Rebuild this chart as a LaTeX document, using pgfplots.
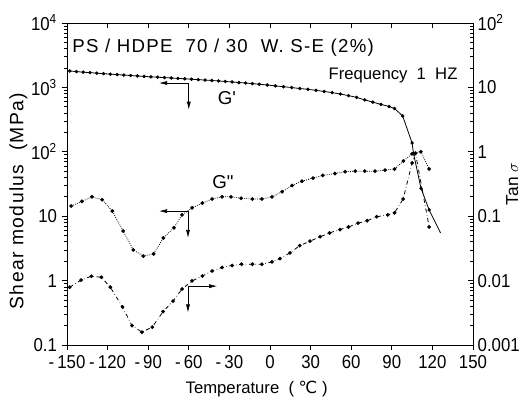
\documentclass[border=0pt]{standalone}
\usepackage{pgfplots}
\pgfplotsset{compat=1.18}
\usepackage{pgfplotstable}
\usepackage{fontspec}
\setmainfont{Liberation Sans}
\newfontfamily\dejavu{DejaVu Sans}
\newfontfamily\tickfont[FakeStretch=0.9]{Liberation Sans}
\newfontfamily\spacedfont[LetterSpace=7]{Liberation Sans}
\usetikzlibrary{arrows.meta}

\pgfplotstableread{
T V
-148 1800
-143 1760
-138 1725
-133 1695
-128 1665
-123 1635
-118 1605
-113 1580
-108 1555
-103 1530
-98 1505
-93 1480
-88 1460
-83 1440
-78 1420
-73 1400
-68 1380
-63 1360
-58 1340
-53 1320
-48 1300
-43 1280
-38 1260
-33 1235
-28 1215
-23 1190
-18 1170
-13 1145
-8 1120
-2 1090
4 1055
10 1025
16 995
22 960
28 935
34 900
40 865
46 830
52 790
58 745
64 700
70 640
76 590
82 545
88 505
92 470
98 360
105 137
106 95
111.6 27
117.6 12.5
}\Gp

\pgfplotstableread{
T V
-147 14.4
-139 17
-131.6 20
-124 18
-116.5 12
-108.5 5.9
-101 3.0
-93.6 2.4
-86 2.6
-78.8 4.6
-71 6.6
-65 10.5
-57.6 13.5
-50 16
-42.8 18.5
-35.4 20
-28.8 20
-21.4 19
-13 18.5
-6 18.5
1.5 20
9 24
16.3 30
23.6 35
31.8 39
39 43
48 46
55.5 49
63 50
70 50
77.6 50
85 52
92 54
98.6 72
105 93
111.5 100
117.6 54
}\Gpp

\pgfplotstableread{
T V
-148 0.0079
-139.6 0.0102
-132 0.0117
-124.6 0.0113
-118 0.0079
-109 0.0039
-102 0.0020
-94.6 0.00158
-87 0.0019
-79 0.0033
-71.7 0.0048
-65 0.0074
-57.6 0.0099
-50 0.0118
-42.8 0.0141
-35.4 0.016
-28 0.0172
-21 0.018
-13 0.018
-6 0.018
1.5 0.0195
7.4 0.022
14.8 0.027
22 0.035
29.6 0.041
37 0.048
44 0.055
51.7 0.062
58 0.068
65 0.078
71.7 0.085
78.8 0.098
87 0.105
92 0.113
98.4 0.185
105 0.67
107.5 0.95
117.6 0.068
}\Tan

\begin{document}
\begin{tikzpicture}
\useasboundingbox (-50.25pt,-41.25pt) rectangle (339.75pt,258.75pt);
\pgfplotsset{
  every axis/.append style={
    at={(0,0)}, anchor=south west,
    scale only axis, width=304.5pt, height=241.5pt,
    xmin=-150, xmax=150, ymode=log,
    major tick length=4pt, minor tick length=2pt,
    tick label style={font=\tickfont\fontsize{14}{16}\selectfont},
    axis line style={line width=0.6pt},
    every tick/.style={black, line width=0.5pt},
    clip=false,
  }
}
\begin{axis}[
  ymin=0.1, ymax=10000,
  tick align=outside,
  xtick={-150,-120,-90,-60,-30,0,30,60,90,120,150},
  xticklabels={-\,150,-\,120,-\,90,-\,60,-\,30,0,30,60,90,120,150},
  xticklabel shift=0pt,
  ytick={0.1,1,10,100,1000,10000},
  yticklabels={0.1,1,10,10\textsuperscript{2},10\textsuperscript{3},10\textsuperscript{4}},
  minor ytick={0.2,0.3,0.4,0.5,0.6,0.7,0.8,0.9,2,3,4,5,6,7,8,9,20,30,40,50,60,70,80,90,200,300,400,500,600,700,800,900,2000,3000,4000,5000,6000,7000,8000,9000},
  ytick pos=left,
  xtick pos=bottom,
]
\addplot[black, line width=0.6pt] table[x=T,y=V] {\Gp} -- (axis cs:126,5.5);
\addplot[black, only marks, mark=*, mark size=1.1pt] table[x=T,y=V] {\Gp};
\addplot[black, densely dotted, line width=0.6pt, mark=*, mark size=1.1pt, mark options={solid}] table[x=T,y=V] {\Gpp};
\draw[-{Latex[length=6pt,width=3pt]}, line width=0.5pt] (axis cs:-60,1170) -- (axis cs:-82,1170);
\draw[-{Latex[length=6pt,width=3pt]}, line width=0.5pt] (axis cs:-60,1170) -- (axis cs:-60,450);
\draw[-{Latex[length=6pt,width=3pt]}, line width=0.5pt] (axis cs:-60.6,12) -- (axis cs:-82,12);
\draw[-{Latex[length=6pt,width=3pt]}, line width=0.5pt] (axis cs:-60.6,12) -- (axis cs:-60.6,4.6);
\draw[-{Latex[length=6pt,width=3pt]}, line width=0.5pt] (axis cs:-60.6,0.82) -- (axis cs:-39,0.82);
\draw[-{Latex[length=6pt,width=3pt]}, line width=0.5pt] (axis cs:-60.6,0.82) -- (axis cs:-60.6,0.32);
\node[anchor=west, font=\spacedfont\fontsize{14}{16}\selectfont] at (axis cs:-149.5,4070) {PS / HDPE\ \ 70 / 30\ \ W.\ S-E\ (2\%)};
\node[anchor=east, font=\fontsize{12.5}{14}\selectfont] at (axis cs:142,1550) {Frequency\ \ 1\ \ HZ};
\node[font=\fontsize{14}{16}\selectfont] at (axis cs:-31.8,684) {G\textquotesingle};
\node[font=\fontsize{14}{16}\selectfont] at (axis cs:-34.7,34) {G\textquotedbl};
\node[xshift=-36.5pt, rotate=90, font=\spacedfont\fontsize{14.5}{16}\selectfont] at (rel axis cs:0,0.447) {Shear modulus\ \ (MPa)};
\node[xshift=-10pt, yshift=-33pt, font=\fontsize{12.5}{14}\selectfont] at (rel axis cs:0.5,0) {Temperature\ \ ( {\dejavu ℃} )};
\node[xshift=29.5pt, rotate=90, font=\fontsize{13}{14}\selectfont] at (rel axis cs:1,0.5) {Tan $\sigma$};
\end{axis}
\begin{axis}[
  ymin=0.001, ymax=100,
  tick align=inside,
  axis y line*=right, axis x line*=top,
  xtick={-150,-120,-90,-60,-30,0,30,60,90,120,150},
  xticklabels={},
  ytick={0.001,0.01,0.1,1,10,100},
  yticklabels={0.001,0.01,0.1,1,10,10\textsuperscript{2}},
  minor ytick={0.002,0.003,0.004,0.005,0.006,0.007,0.008,0.009,0.02,0.03,0.04,0.05,0.06,0.07,0.08,0.09,0.2,0.3,0.4,0.5,0.6,0.7,0.8,0.9,2,3,4,5,6,7,8,9,20,30,40,50,60,70,80,90},
]
\addplot[black, dash dot, line width=0.6pt, mark=*, mark size=1.1pt, mark options={solid}] table[x=T,y=V] {\Tan};
\end{axis}
\end{tikzpicture}
\end{document}
